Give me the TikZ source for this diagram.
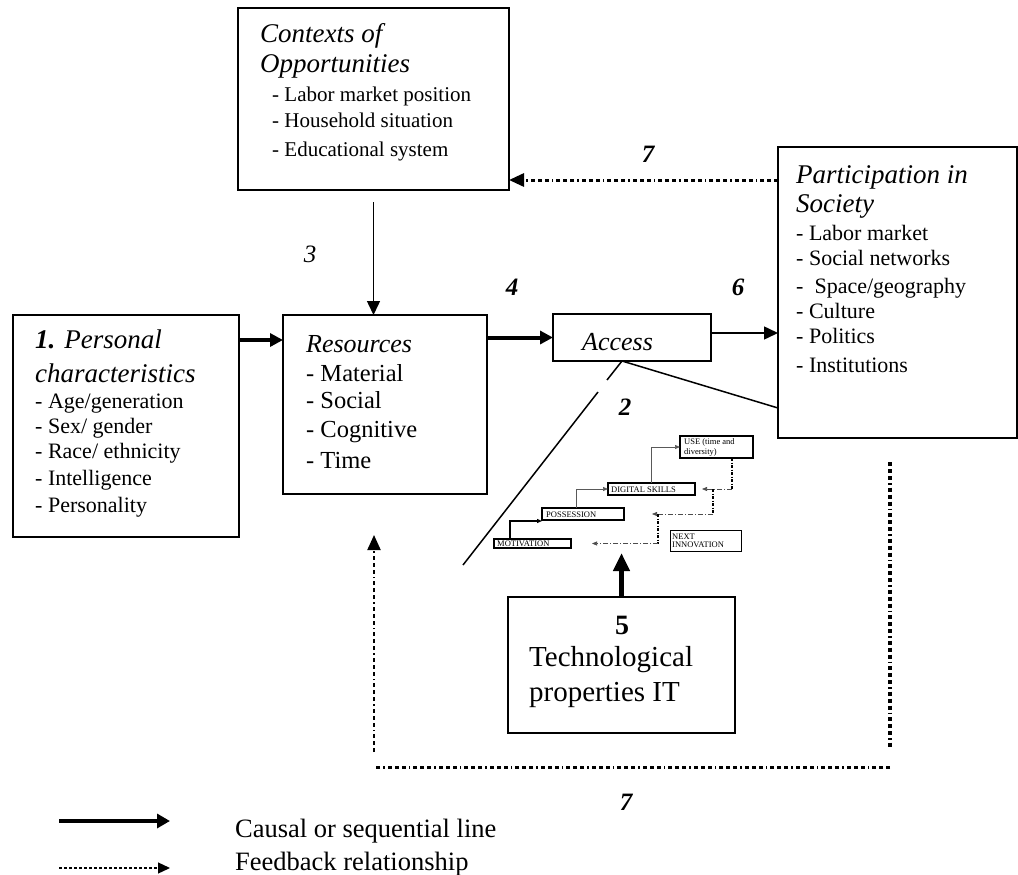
\documentclass[tikz,border=0pt]{standalone}
\usepackage{fontspec}
\setmainfont{Liberation Serif}
\usetikzlibrary{arrows.meta}
\newcommand{\myfs}[1]{\fontsize{#1}{#1}\selectfont}
\begin{document}
\begin{tikzpicture}[x=1pt,y=-1pt,
  box/.style={draw, line width=1.5pt, inner sep=0pt, outer sep=0pt},
  sbox/.style={draw, line width=1.3pt, inner sep=0pt, outer sep=0pt},
  txt/.style={anchor=base west, inner sep=0pt},
  ttl/.style={txt, font=\myfs{27}\itshape},
  lst/.style={txt, font=\myfs{22}},
  num/.style={anchor=base, inner sep=0pt, font=\myfs{25}\bfseries\itshape},
  tinytxt/.style={anchor=west, inner sep=0pt, font=\myfs{8.5}},
  arr/.style={line width=1.5pt, -{Triangle[length=14pt,width=13pt]}},
  tarr/.style={line width=4pt, -{Triangle[length=13pt,width=13pt]}},
  fbline/.style={line width=3pt, dash pattern=on 4pt off 3pt on 4pt off 3pt on 4pt off 3pt on 1.5pt off 3pt},
  fbtip/.style={-{Triangle[length=15pt,width=13pt]}},
  sarr/.style={-{Triangle[length=5pt,width=4pt]}},
  sdd/.style={gray!60!black, line width=0.7pt, dash pattern=on 5pt off 2pt on 1pt off 2pt},
  sdv/.style={line width=1.8pt, dash pattern=on 3pt off 1.5pt on 1pt off 1.5pt}
]
\useasboundingbox (0,0) rectangle (1018,875);

% main boxes
\node[box, minimum width=271pt, minimum height=182pt] (ctx) at (373.5,99) {};
\node[box, minimum width=226pt, minimum height=222pt] (per) at (126,426) {};
\node[box, minimum width=204pt, minimum height=179pt] (res) at (385,404.5) {};
\node[box, minimum width=158pt, minimum height=47pt] (acc) at (632,337.5) {};
\node[box, minimum width=239pt, minimum height=291pt] (par) at (897.5,292.5) {};
\node[box, minimum width=227pt, minimum height=136pt] (tech) at (621.5,665) {};

% Contexts text
\node[ttl] (ctx1) at (260,43) {Contexts of};
\node[ttl] (ctx2) at (260,73) {Opportunities};
\node[txt, font=\myfs{21}] (ctx3) at (272,101) {- Labor market position};
\node[txt, font=\myfs{21}] (ctx4) at (272,128) {- Household situation};
\node[txt, font=\myfs{21}] (ctx5) at (272,156) {- Educational system};

% Personal text
\node[ttl] (per1) at (35,348) {\textbf{1.} Personal};
\node[ttl] (per2) at (35,382) {characteristics};
\node[lst] (per3) at (35,408) {- Age/generation};
\node[lst] (per4) at (35,433) {- Sex/ gender};
\node[lst] (per5) at (35,458) {- Race/ ethnicity};
\node[lst] (per6) at (35,485) {- Intelligence};
\node[lst] (per7) at (35,512) {- Personality};

% Resources text
\node[ttl, font=\myfs{26}\itshape] (res1) at (306,352) {Resources};
\node[txt, font=\myfs{24.5}] (res2) at (306,381) {- Material};
\node[txt, font=\myfs{24.5}] (res3) at (306,408) {- Social};
\node[txt, font=\myfs{24.5}] (res4) at (306,437) {- Cognitive};
\node[txt, font=\myfs{24.5}] (res5) at (306,468) {- Time};

% Access text
\node[ttl, font=\myfs{26}\itshape] (acc1) at (582,350) {Access};

% Participation text
\node[ttl] (par1) at (796,183) {Participation in};
\node[ttl] (par2) at (796,212) {Society};
\node[lst] (par3) at (796,240) {- Labor market};
\node[lst] (par4) at (796,265) {- Social networks};
\node[lst] (par5) at (796,293) {-\ \ Space/geography};
\node[lst] (par6) at (796,318) {- Culture};
\node[lst] (par7) at (796,343) {- Politics};
\node[lst] (par8) at (796,372) {- Institutions};

% Tech text
\node[anchor=base, inner sep=0pt, font=\myfs{28}\bfseries] (tech1) at (622,634) {5};
\node[txt, font=\myfs{29}] (tech2) at (529,666) {Technological};
\node[txt, font=\myfs{29}] (tech3) at (529,701) {properties IT};

% number labels
\node[num] (n7a) at (648,162) {7};
\node[num, font=\myfs{25}\itshape] (n3) at (310,262) {3};
\node[num] (n4) at (512,295) {4};
\node[num] (n6) at (738,295) {6};
\node[num] (n2) at (625,415) {2};
\node[num] (n7b) at (626,810) {7};

% main connectors
\draw[arr] ([yshift=-12pt]ctx.south) -- (ctx.south |- res.north);
\draw[tarr] ([yshift=-25pt]per.north east) -- ([yshift=-25pt]res.north west);
\draw[tarr] (res.east |- acc.west) -- (acc.west);
\coordinate (a6) at ([yshift=-19pt]acc.north east);
\draw[arr] (a6) -- (a6 -| par.west);
\coordinate (f7) at ([yshift=-33pt]par.north west);
\draw[fbline, fbtip] (f7) -- (f7 -| ctx.east);

% lines from access
\coordinate (acs) at ([xshift=-10pt]acc.south);
\coordinate (d1) at (607,380);
\coordinate (d2) at (598,392);
\coordinate (d3) at (463,565);
\coordinate (pw) at ([yshift=-261pt]par.north west);
\draw[line width=1.5pt] (acs) -- (d1);
\draw[line width=1.5pt] (d2) -- (d3);
\draw[line width=1.5pt] (acs) -- (pw);

% bottom feedback loop
\coordinate (fbA) at (890,462);
\coordinate (fbB) at (890,747);
\coordinate (fbC) at (890,767);
\coordinate (fbD) at (376,767);
\coordinate (fbE) at (374,752);
\coordinate (fbF) at (374,535);
\draw[fbline, line width=4pt] (fbA) -- (fbB);
\draw[fbline] (fbC) -- (fbD);
\draw[fbline, line width=2pt, fbtip] (fbE) -- (fbF);

% staircase
\node[sbox, minimum width=77pt, minimum height=9pt] (mot) at (532.5,543.5) {};
\node[sbox, minimum width=82pt, minimum height=12pt] (pos) at (583,514) {};
\node[sbox, minimum width=87pt, minimum height=12pt] (dig) at (651.5,489) {};
\node[sbox, minimum width=73pt, minimum height=22pt] (use) at (716.5,447) {};
\node[sbox, line width=1pt, minimum width=71pt, minimum height=21pt] (nxt) at (705.5,540.5) {};

\node[tinytxt] (motT) at (497,544) {MOTIVATION};
\node[tinytxt] (posT) at (546,514.5) {POSSESSION};
\node[tinytxt] (digT) at (611,489.5) {DIGITAL SKILLS};
\node[tinytxt] (useT1) at (684,442) {USE (time and};
\node[tinytxt] (useT2) at (684,452) {diversity)};
\node[tinytxt] (nxtT1) at (672,537) {NEXT};
\node[tinytxt] (nxtT2) at (672,545) {INNOVATION};

\draw[line width=1.1pt, sarr] ([xshift=16pt]mot.north west) |- ([yshift=-1pt]pos.south west);
\draw[gray!70!black, line width=0.7pt, sarr] ([xshift=34pt]pos.north west) |- (dig.west);
\draw[gray!70!black, line width=0.7pt, sarr] ([xshift=43pt]dig.north west) |- (use.west);

\coordinate (u1) at ([xshift=-21pt]use.south east);
\coordinate (u2) at (u1 |- dig.east);
\draw[sdv] (u1) -- (u2);
\draw[sdd, sarr] (u2) -- ([xshift=7pt]dig.east);
\coordinate (p1) at (713,489);
\coordinate (p2) at (p1 |- pos.east);
\draw[sdv] (p1) -- (p2);
\draw[sdd, sarr] (p2) -- ([xshift=28pt]pos.east);
\coordinate (q1) at (658,514);
\coordinate (q2) at (q1 |- mot.east);
\draw[sdv] (q1) -- (q2);
\draw[sdd, sarr] (q2) -- ([xshift=21pt]mot.east);

\coordinate (tipT) at (621.5,553);
\draw[line width=5pt, -{Triangle[length=18pt,width=16pt]}] (tech.north) -- (tipT);

% legend
\coordinate (l1a) at (59,821);
\coordinate (l1b) at (170,821);
\coordinate (l2a) at (59,868);
\coordinate (l2b) at (170,868);
\draw[line width=4pt, -{Triangle[length=13pt,width=14pt]}] (l1a) -- (l1b);
\draw[line width=1.3pt, dash pattern=on 3pt off 2pt, -{Triangle[length=12pt,width=11pt]}] (l2a) -- (l2b);
\node[txt, font=\myfs{26.5}] (leg1) at (235,837) {Causal or sequential line};
\node[txt, font=\myfs{26.5}] (leg2) at (235,870) {Feedback relationship};
\end{tikzpicture}
\end{document}
